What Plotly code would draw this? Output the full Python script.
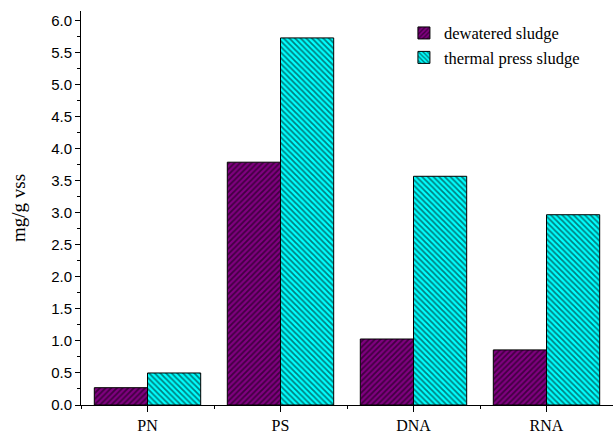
import plotly.graph_objects as go

categories = ["PN", "PS", "DNA", "RNA"]
dewatered = [0.27, 3.79, 1.03, 0.86]
thermal_press = [0.50, 5.73, 3.57, 2.97]
y_ticks = [0.0, 0.5, 1.0, 1.5, 2.0, 2.5, 3.0, 3.5, 4.0, 4.5, 5.0, 5.5, 6.0]

x_pos = list(range(len(categories)))

fig = go.Figure()
fig.add_trace(go.Bar(
    x=x_pos, y=dewatered, name="dewatered sludge",
    marker=dict(color="#800080", line=dict(color="black", width=1),
                pattern=dict(shape="/", fgcolor="black", bgcolor="#800080",
                             size=4, solidity=0.45)),
))
fig.add_trace(go.Bar(
    x=x_pos, y=thermal_press, name="thermal press sludge",
    marker=dict(color="#00FFFF", line=dict(color="black", width=1),
                pattern=dict(shape="\\", fgcolor="black", bgcolor="#00FFFF",
                             size=4, solidity=0.45)),
))

fig.update_layout(
    width=613, height=434,
    margin=dict(l=81, r=0, t=11, b=29),
    plot_bgcolor="white", paper_bgcolor="white",
    barmode="group", bargap=0.2, bargroupgap=0,
    showlegend=True,
    legend=dict(x=0.607, y=0.988, xanchor="left", yanchor="top",
                font=dict(family="Liberation Serif", size=16.5, color="black"),
                bgcolor="rgba(0,0,0,0)", tracegroupgap=0, itemwidth=30),
    font=dict(family="Liberation Sans", color="black"),
)

fig.update_xaxes(
    range=[-0.5, 3.5], tickvals=x_pos, ticktext=categories,
    showline=True, linecolor="black", linewidth=1,
    ticks="outside", ticklen=6, tickcolor="black", tickwidth=1,
    tickfont=dict(family="Liberation Serif", size=16, color="black"),
    showgrid=False, zeroline=False,
    minor=dict(tickvals=[-0.5, 0.5, 1.5, 2.5, 3.5], ticks="outside",
               ticklen=3, tickcolor="black", tickwidth=1, showgrid=False),
)
fig.update_yaxes(
    range=[0, 6.15], tickvals=y_ticks, ticktext=[f"{v:.1f}" for v in y_ticks],
    showline=True, linecolor="black", linewidth=1,
    ticks="outside", ticklen=5, tickcolor="black", tickwidth=1,
    tickfont=dict(family="Liberation Sans", size=15, color="black"),
    showgrid=False, zeroline=False,
    minor=dict(dtick=0.25, tick0=0, ticks="outside", ticklen=3,
               tickcolor="black", tickwidth=1, showgrid=False),
    title=dict(text="mg/g vss", standoff=20,
               font=dict(family="Liberation Serif", size=19, color="black")),
)

fig.write_html("out.html")
